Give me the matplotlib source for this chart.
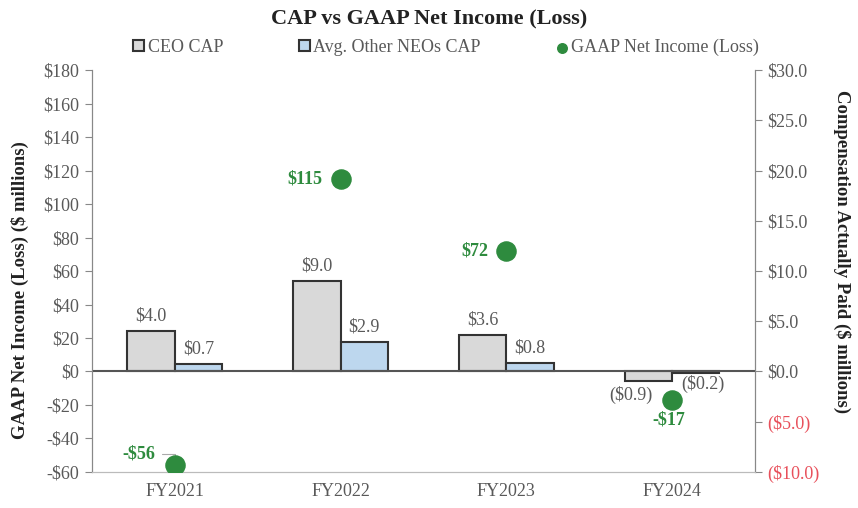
import matplotlib
matplotlib.use("Agg")
import matplotlib.pyplot as plt
import numpy as np

categories = ["FY2021", "FY2022", "FY2023", "FY2024"]
ceo_cap = [4.0, 9.0, 3.6, -0.9]
neo_cap = [0.7, 2.9, 0.8, -0.2]
net_income = [-56, 115, 72, -17]
ceo_labels = ["$4.0", "$9.0", "$3.6", "($0.9)"]
neo_labels = ["$0.7", "$2.9", "$0.8", "($0.2)"]
ni_labels = ["-$56", "$115", "$72", "-$17"]
left_ticks = list(range(-60, 181, 20))
right_ticks = [-10, -5, 0, 5, 10, 15, 20, 25, 30]

plt.rcParams['font.family'] = ['Liberation Serif', 'DejaVu Serif']

GRAY_TXT = "#595959"
GREEN = "#2e8b3e"
RED = "#e8505b"
EDGE = "#333333"

fig = plt.figure(figsize=(8.58, 5.08), dpi=100)
ax = fig.add_axes([0.107, 0.071, 0.773, 0.791])
ax2 = ax.twinx()

x = np.arange(len(categories))
w = 0.285

# Bars on right axis
ax2.bar(x - w/2, ceo_cap, w, color="#d9d9d9", edgecolor=EDGE, linewidth=1.5, zorder=2, label="CEO CAP")
ax2.bar(x + w/2, neo_cap, w, color="#bdd7ee", edgecolor=EDGE, linewidth=1.5, zorder=2, label="Avg. Other NEOs CAP")
ax2.axhline(0, color="#555555", linewidth=1.5, zorder=3)

FS = 13
for i in range(len(categories)):
    if ceo_cap[i] >= 0:
        ax2.text(x[i] - w/2, ceo_cap[i] + 0.7, ceo_labels[i], ha="center", va="bottom", fontsize=FS, color=GRAY_TXT)
        ax2.text(x[i] + w/2, neo_cap[i] + 0.7, neo_labels[i], ha="center", va="bottom", fontsize=FS, color=GRAY_TXT)
    else:
        ax2.text(x[i] - 0.247, -2.29, ceo_labels[i], ha="center", va="center", fontsize=FS, color=GRAY_TXT)
        ax2.text(x[i] + 0.187, -1.29, neo_labels[i], ha="center", va="center", fontsize=FS, color=GRAY_TXT)

# Net income on left axis, drawn above bars
ax.set_zorder(ax2.get_zorder() + 1)
ax.patch.set_visible(False)
sc = ax.scatter(x, net_income, s=190, color=GREEN, zorder=5, label="GAAP Net Income (Loss)")

for i in range(len(categories)):
    if i == 0:
        ax.annotate(ni_labels[i], xy=(x[i], net_income[i]), xytext=(x[i] - 0.12, net_income[i] + 7),
                    ha="right", va="center", fontsize=FS, color=GREEN, fontweight="bold",
                    arrowprops=dict(arrowstyle="-", color="#aaaaaa", lw=0.8,
                                    connectionstyle="angle,angleA=0,angleB=90,rad=0",
                                    shrinkA=3, shrinkB=6))
    elif i == 3:
        ax.text(x[i] - 0.02, net_income[i] - 7, ni_labels[i], ha="center", va="top", fontsize=FS, color=GREEN, fontweight="bold")
    else:
        ax.text(x[i] - 0.11, net_income[i], ni_labels[i], ha="right", va="center", fontsize=FS, color=GREEN, fontweight="bold")

ax.set_xlim(-0.5, len(categories) - 0.5)
ax.set_ylim(-60, 180)
ax2.set_ylim(-10, 30)
ax.set_yticks(left_ticks)
ax.set_yticklabels([f"${v}" if v >= 0 else f"-${-v}" for v in left_ticks], fontsize=13, color=GRAY_TXT)
ax2.set_yticks(right_ticks)
ax2.set_yticklabels([f"${v:.1f}" if v >= 0 else f"(${-v:.1f})" for v in right_ticks], fontsize=13)
for lbl, v in zip(ax2.get_yticklabels(), right_ticks):
    lbl.set_color(RED if v < 0 else GRAY_TXT)

ax.set_xticks(x)
ax.set_xticklabels(categories, fontsize=13, color=GRAY_TXT)
ax.tick_params(axis="x", length=0, pad=8)
ax.tick_params(axis="y", color="#888888", length=5, pad=4)
ax2.tick_params(axis="y", color="#888888", length=5, pad=4)

for a in (ax, ax2):
    a.spines["top"].set_visible(False)
    a.spines["left"].set_color("#888888")
    a.spines["right"].set_color("#888888")
    a.spines["bottom"].set_color("#bbbbbb")

fig.text(20/858, 1 - 290/508, "GAAP Net Income (Loss) ($ millions)", rotation=90, ha="center", va="center",
         fontsize=13.5, fontweight="bold", color="#222222")
fig.text(842/858, 1 - 252/508, "Compensation Actually Paid ($ millions)", rotation=270, ha="center", va="center",
         fontsize=13.5, fontweight="bold", color="#222222")

fig.text(0.5, 1 - 19/508, "CAP vs GAAP Net Income (Loss)", ha="center", va="center", fontsize=16, fontweight="bold", color="#222222")

handles, labels = ax2.get_legend_handles_labels()
handles.append(sc)
labels.append("GAAP Net Income (Loss)")
leg = fig.legend(handles, labels, loc="center", bbox_to_anchor=(0.52, 0.907), ncol=3, frameon=False,
                 fontsize=13, handlelength=0.6, handleheight=0.6, handletextpad=0.2, columnspacing=4.2,
                 markerscale=0.5)
for t in leg.get_texts():
    t.set_color(GRAY_TXT)

fig.savefig("out.png", dpi=100)
